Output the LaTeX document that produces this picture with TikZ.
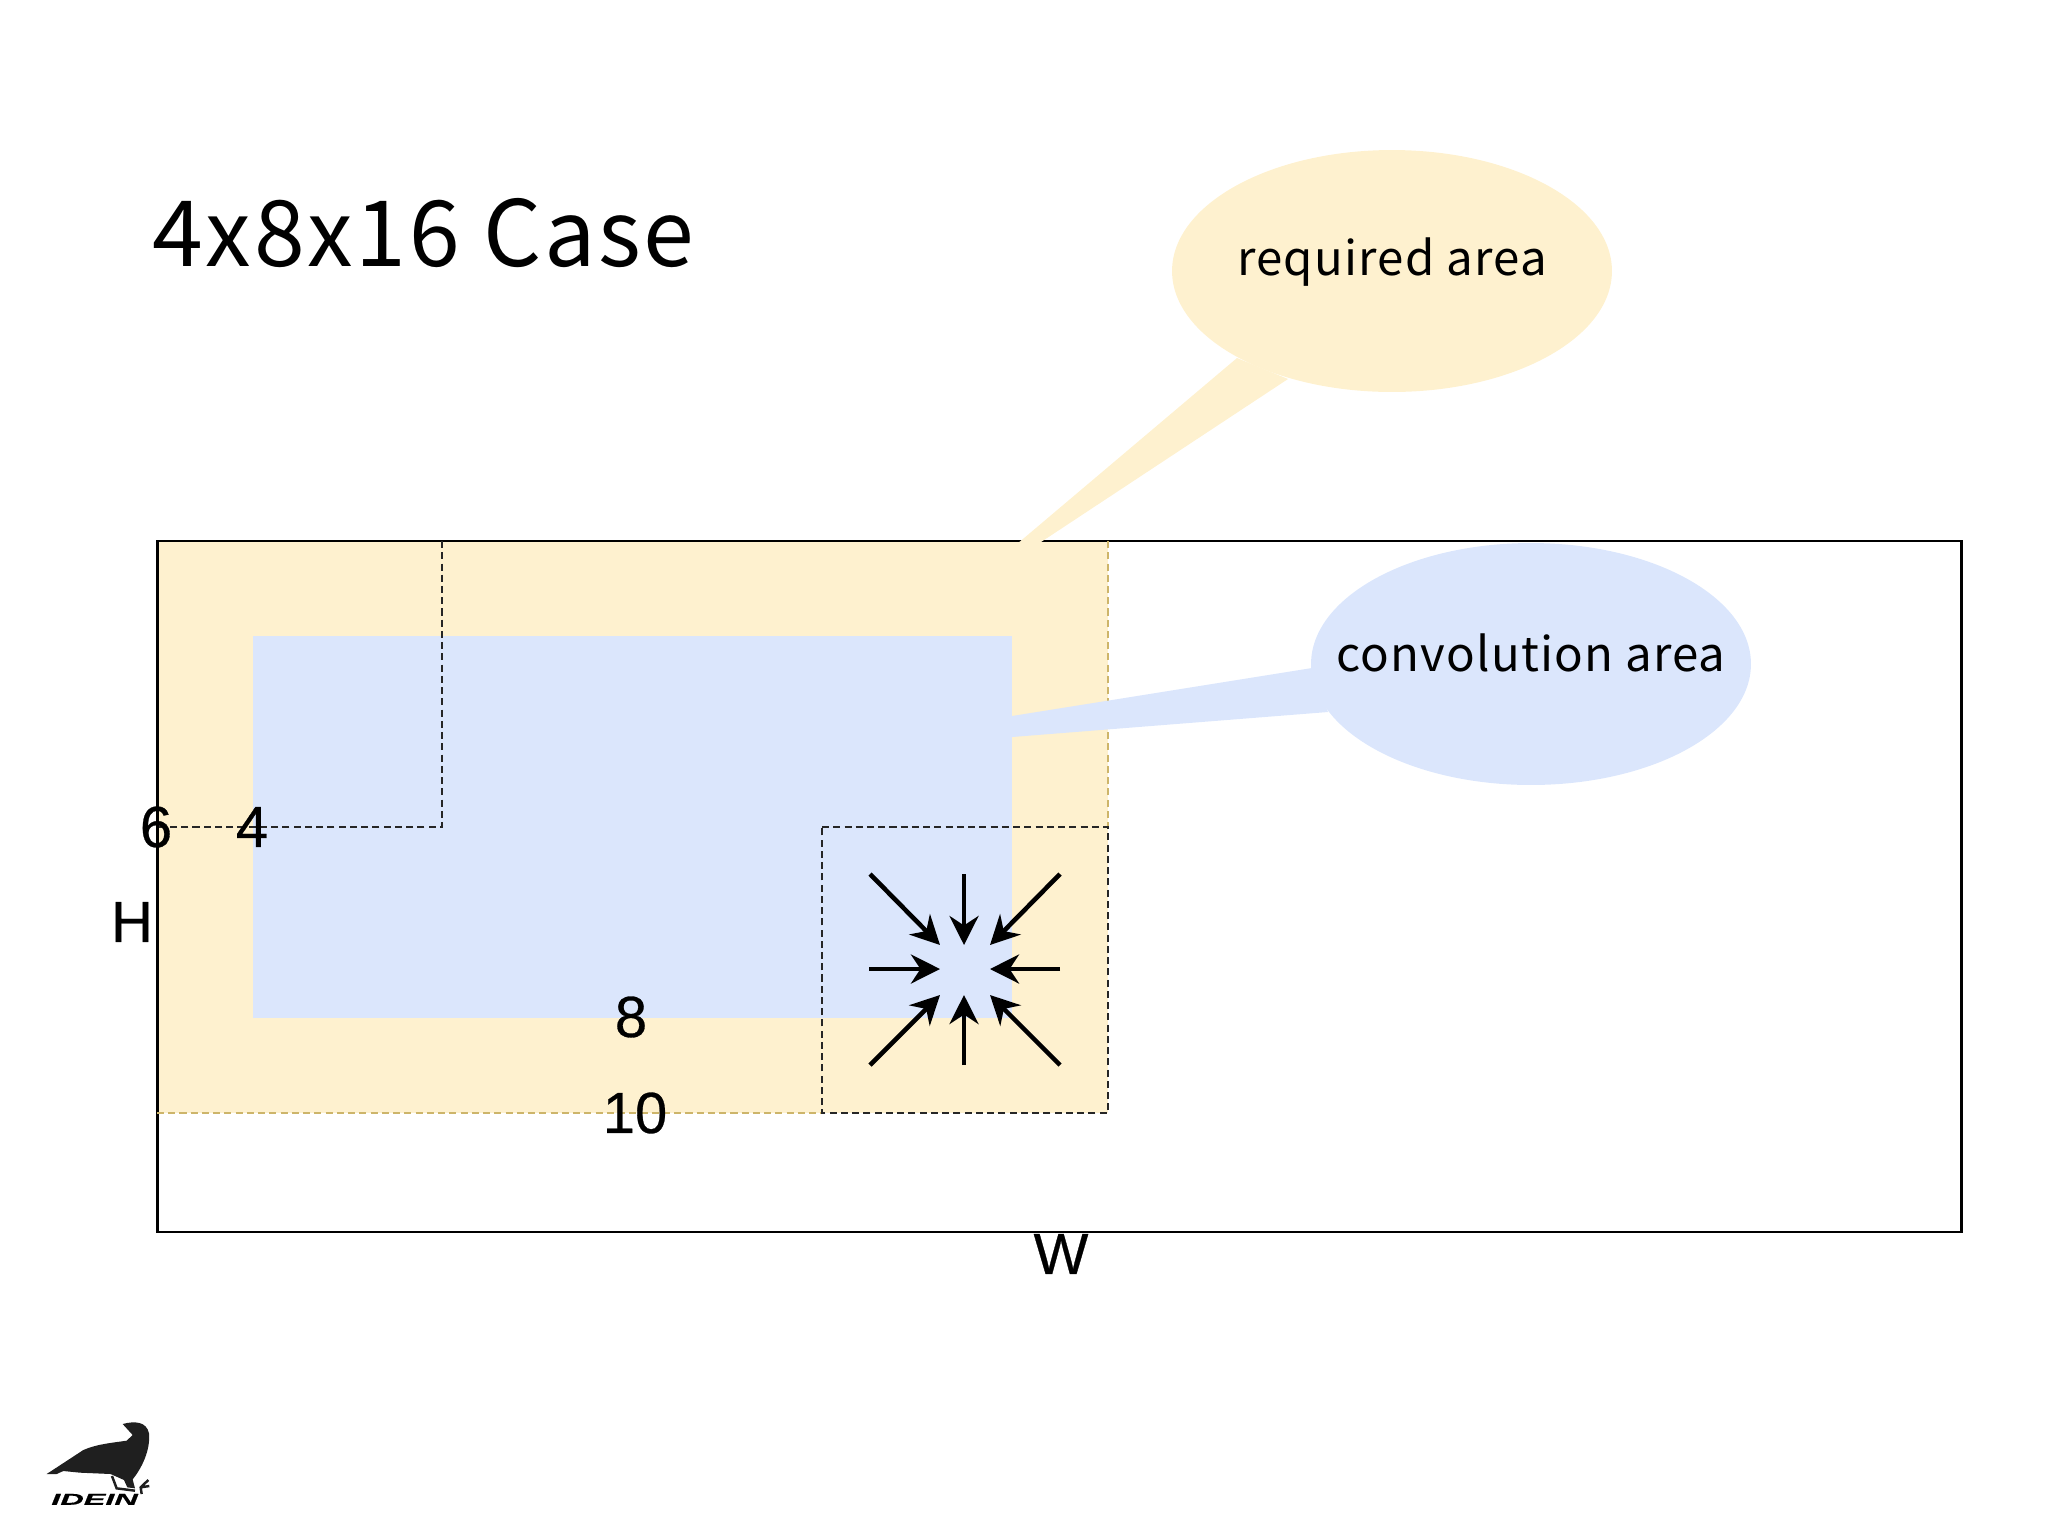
\documentclass[tikz,border=0pt]{standalone}
\usepackage{fontspec}
\setmainfont[FakeBold=0.5]{Liberation Sans}
\newfontfamily\jpfont[LetterSpace=2.5]{Noto Sans CJK JP}
\newfontfamily\titlefont[LetterSpace=3]{Noto Sans CJK JP}
\usetikzlibrary{arrows.meta,shapes.geometric}
\definecolor{reqyellow}{HTML}{FEF1CF}
\definecolor{convblue}{HTML}{DBE6FC}
\definecolor{guideyellow}{HTML}{CDB56A}
\begin{document}
\begin{tikzpicture}[x=0.02cm, y=-0.02cm,
    dim/.style={font=\fontsize{33}{33}\selectfont, inner sep=0pt},
    callout/.style={font=\jpfont\fontsize{27}{27}\selectfont, inner sep=0pt},
    bubble/.style={ellipse, minimum width=8.8cm, minimum height=4.84cm, inner sep=0pt},
    guide/.style={dash pattern=on 4pt off 2.4pt, line width=1.3pt, draw=black!85},
    squeeze/.style={-{Stealth[length=0.58cm,width=0.58cm]}, line width=2.6pt}]
  \useasboundingbox (0,0) rectangle (2048,1536);
  % areas
  \fill[reqyellow] (157,541) rectangle (1108,1113);
  \fill[convblue] (253,636) rectangle (1012,1018);
  % frame
  \node[draw, line width=1.6pt, minimum width=36.1cm, minimum height=13.82cm, inner sep=0pt] (frame) at (1059.5,886.5) {};
  % dashed corners
  \coordinate (tl) at (442,541);
  \coordinate (tc) at (442,827);
  \coordinate (tb) at (157,827);
  \draw[guide] (tl) -- (tc) -- (tb);
  \coordinate (ytop) at (1108,541);
  \coordinate (yleft) at (157,1113);
  \coordinate (br1) at (822,827);
  \coordinate (br2) at (1108,827);
  \coordinate (br3) at (1108,1113);
  \coordinate (br4) at (822,1113);
  \draw[guide, draw=guideyellow] (ytop) -- (br2);
  \draw[guide, draw=guideyellow] (yleft) -- (br4);
  \draw[guide] (br1) -- (br2) -- (br3) -- (br4) -- cycle;
  % callouts
  \node[bubble, fill=reqyellow] (reqbubble) at (1392,271) {};
  \fill[reqyellow] (1237,358) -- (1288,379) -- (1038,544) -- (1017,544) -- cycle;
  \fill[convblue] (1312,668) -- (1328,712) -- (1012,737) -- (1012,716) -- cycle;
  \node[bubble, fill=convblue] (convbubble) at (1531,664) {};
  \node[callout] (reqtext) at (1392,262) {required area};
  \node[callout] (convtext) at (1531,653) {convolution area};
  \node[inner sep=0pt, anchor=west, font=\titlefont\fontsize{52}{52}\selectfont] (title) at (152,233) {4x8x16 Case};
  % labels
  \node[dim] (six) at (156,827) {6};
  \node[dim] (four) at (252,827) {4};
  \node[dim] (hlabel) at (132,922) {H};
  \node[dim] (eight) at (631,1017) {8};
  \node[dim] (ten) at (635,1113) {10};
  \node[dim] (wlabel) at (1061,1254) {W};
  % arrows
  \foreach \name/\sx/\sy/\ex/\ey in {nw/870/874/940/945, n/964/874/964/945, ne/1060/874/990/945,
      w/869/969/940/969, e/1060/969/990/969,
      sw/870/1065/940/995, s/964/1065/964/995, se/1060/1065/990/995} {
    \coordinate (\name from) at (\sx,\sy);
    \coordinate (\name to) at (\ex,\ey);
    \draw[squeeze] (\name from) -- (\name to);
  }
  % logo
  \begin{scope}[shift={(20,1400)}, x=0.00667cm, y=-0.00667cm]
    \fill[black!88] (80,222) -- (190,150) .. controls (230,132) and (280,128) .. (320,122) -- (338,105) -- (308,72)
      .. controls (345,62) and (380,65) .. (387,100) .. controls (392,150) and (365,205) .. (338,238)
      -- (345,265) -- (322,262) -- (312,240) -- (272,222) -- (180,218) -- (130,213) -- (110,222) -- cycle;
    \draw[black!88, line width=1.4pt] (276,228) -- (290,265) -- (345,272) (365,282) -- (362,262) -- (385,240) (362,262) -- (388,258);
    \node[anchor=west, inner sep=0pt, font=\bfseries\itshape\fontsize{9}{9}\selectfont, xscale=2.05] (logo) at (92,298) {IDEIN};
  \end{scope}
\end{tikzpicture}
\end{document}
